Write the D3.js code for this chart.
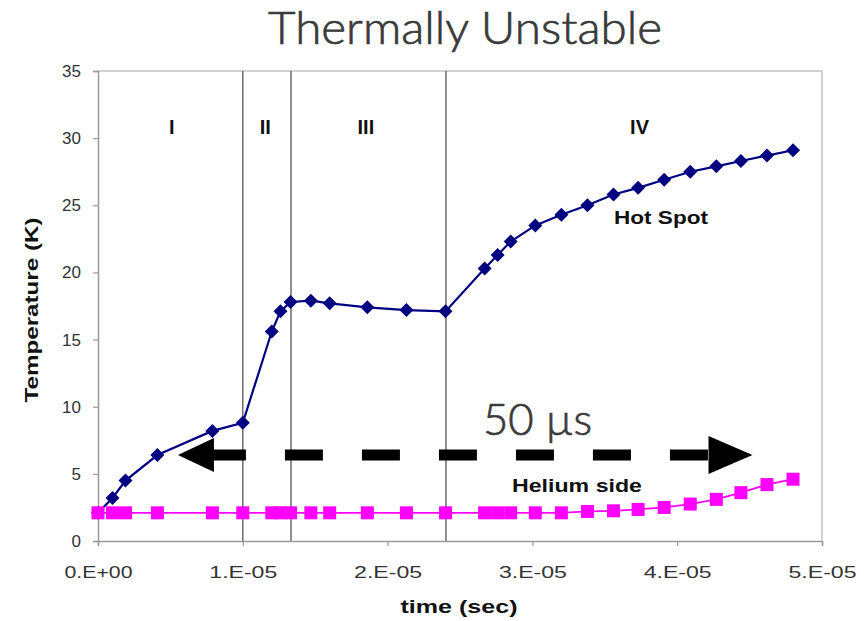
<!DOCTYPE html>
<html>
<head>
<meta charset="utf-8">
<script src="https://cdn.jsdelivr.net/npm/d3@7"></script>
<style>
  body { margin: 0; background: #fff; }
  svg { display: block; }
</style>
</head>
<body>
<div id="chart"></div>
<script>
// time in seconds, temperature in K
var hotTime = [0, 0.10e-5, 0.19e-5, 0.41e-5, 0.79e-5, 1.00e-5, 1.20e-5, 1.26e-5, 1.33e-5,
               1.47e-5, 1.60e-5, 1.86e-5, 2.13e-5, 2.40e-5, 2.67e-5, 2.76e-5, 2.85e-5,
               3.02e-5, 3.20e-5, 3.38e-5, 3.56e-5, 3.73e-5, 3.91e-5, 4.09e-5, 4.27e-5,
               4.44e-5, 4.62e-5, 4.80e-5];
var hotTemp = [2.1, 3.2, 4.5, 6.4, 8.2, 8.8, 15.6, 17.1, 17.8,
               17.9, 17.7, 17.4, 17.2, 17.1, 20.3, 21.3, 22.3,
               23.5, 24.3, 25.0, 25.8, 26.3, 26.9, 27.5, 27.9,
               28.3, 28.7, 29.1];
var heTime = hotTime;
var heTemp = [2.1, 2.1, 2.1, 2.1, 2.1, 2.1, 2.1, 2.1, 2.1,
              2.1, 2.1, 2.1, 2.1, 2.1, 2.1, 2.1, 2.1,
              2.1, 2.1, 2.2, 2.25, 2.35, 2.5, 2.75, 3.1,
              3.6, 4.2, 4.6];

var yTicks = [0, 5, 10, 15, 20, 25, 30, 35];
var xTicks = [0, 1e-5, 2e-5, 3e-5, 4e-5, 5e-5];
var xTickLabels = ["0.E+00", "1.E-05", "2.E-05", "3.E-05", "4.E-05", "5.E-05"];

// phase boundaries and labels
var phaseLines = [1.0e-5, 1.333e-5, 2.403e-5];
var phaseNames = ["I", "II", "III", "IV"];
var phaseCenters = [0.51e-5, 1.155e-5, 1.85e-5, 3.74e-5];

// the 50 µs arrow (start, end, height)
var arrowSpan = [0.552e-5, 4.52e-5];
var arrowTemp = 6.4;

var W = 865, H = 621;
var svg = d3.select("#chart").append("svg")
  .attr("width", W)
  .attr("height", H);

var x = d3.scaleLinear().domain([0, 5e-5]).range([98, 822]);
var y = d3.scaleLinear().domain([0, 35]).range([541, 71]);

var axisFont = "Liberation Sans, Arial, sans-serif";
var slideFont = "Lato, 'Open Sans', sans-serif";

// plot frame (top and right)
svg.append("path")
  .attr("d", "M" + x(0) + "," + y(35) + "H" + x(5e-5) + "V" + y(0))
  .attr("fill", "none")
  .attr("stroke", "#c4c4c4")
  .attr("stroke-width", 1.5);

// phase separators
svg.selectAll(".phase")
  .data(phaseLines)
  .enter().append("line")
  .attr("class", "phase")
  .attr("x1", function(d){ return x(d); })
  .attr("x2", function(d){ return x(d); })
  .attr("y1", y(35))
  .attr("y2", y(0))
  .attr("stroke", "#6a6a6a")
  .attr("stroke-width", 1.5);

// axes
var yAxis = svg.append("g")
  .attr("transform", "translate(" + x(0) + ",0)")
  .call(d3.axisLeft(y).tickValues(yTicks).tickSize(5).tickPadding(12).tickFormat(d3.format("d")));

var xAxis = svg.append("g")
  .attr("transform", "translate(0," + y(0) + ")")
  .call(d3.axisBottom(x).tickValues(xTicks).tickSize(5).tickPadding(20)
        .tickFormat(function(d, i){ return xTickLabels[i]; }));

[yAxis, xAxis].forEach(function(ax){
  ax.select(".domain").attr("stroke", "#9a9a9a").attr("stroke-width", 1.5);
  ax.selectAll(".tick line").attr("stroke", "#9a9a9a").attr("stroke-width", 1.2);
  ax.selectAll(".tick text")
    .attr("fill", "#333")
    .style("font-family", axisFont)
    .style("font-size", "17px");
});
xAxis.selectAll(".tick text").attr("textLength", 68).attr("lengthAdjust", "spacingAndGlyphs");

// axis titles
svg.append("text")
  .attr("x", 459)
  .attr("y", 613)
  .attr("text-anchor", "middle")
  .attr("textLength", 117)
  .attr("lengthAdjust", "spacingAndGlyphs")
  .style("font-family", axisFont)
  .style("font-weight", "bold")
  .style("font-size", "19px")
  .attr("fill", "#111")
  .text("time (sec)");

svg.append("text")
  .attr("transform", "translate(38,310) rotate(-90)")
  .attr("text-anchor", "middle")
  .attr("textLength", 185)
  .attr("lengthAdjust", "spacingAndGlyphs")
  .style("font-family", axisFont)
  .style("font-weight", "bold")
  .style("font-size", "19px")
  .attr("fill", "#111")
  .text("Temperature (K)");

// phase labels
svg.selectAll(".phaseName")
  .data(phaseNames)
  .enter().append("text")
  .attr("class", "phaseName")
  .attr("x", function(d, i){ return x(phaseCenters[i]); })
  .attr("y", 134)
  .attr("text-anchor", "middle")
  .style("font-family", axisFont)
  .style("font-weight", "bold")
  .style("font-size", "20px")
  .attr("fill", "#111")
  .text(function(d){ return d; });

// series
var lineGen = d3.line()
  .x(function(d){ return x(d[0]); })
  .y(function(d){ return y(d[1]); });

var hotData = hotTime.map(function(t, i){ return [t, hotTemp[i]]; });
var heData = heTime.map(function(t, i){ return [t, heTemp[i]]; });

svg.append("path")
  .datum(hotData)
  .attr("d", lineGen)
  .attr("fill", "none")
  .attr("stroke", "#000080")
  .attr("stroke-width", 2.2);

svg.selectAll(".hot")
  .data(hotData)
  .enter().append("path")
  .attr("class", "hot")
  .attr("transform", function(d){ return "translate(" + x(d[0]) + "," + y(d[1]) + ")"; })
  .attr("d", "M0,-7L7,0L0,7L-7,0Z")
  .attr("fill", "#000080");

svg.append("path")
  .datum(heData)
  .attr("d", lineGen)
  .attr("fill", "none")
  .attr("stroke", "#ff00ff")
  .attr("stroke-width", 1.8);

svg.selectAll(".he")
  .data(heData)
  .enter().append("rect")
  .attr("class", "he")
  .attr("x", function(d){ return x(d[0]) - 6.5; })
  .attr("y", function(d){ return y(d[1]) - 6.5; })
  .attr("width", 13)
  .attr("height", 13)
  .attr("fill", "#ff00ff");

// series labels
svg.append("text")
  .attr("x", 661)
  .attr("y", 224)
  .attr("text-anchor", "middle")
  .attr("textLength", 94)
  .attr("lengthAdjust", "spacingAndGlyphs")
  .style("font-family", axisFont)
  .style("font-weight", "bold")
  .style("font-size", "18px")
  .attr("fill", "#111")
  .text("Hot Spot");

svg.append("text")
  .attr("x", 577)
  .attr("y", 492)
  .attr("text-anchor", "middle")
  .attr("textLength", 130)
  .attr("lengthAdjust", "spacingAndGlyphs")
  .style("font-family", axisFont)
  .style("font-weight", "bold")
  .style("font-size", "18px")
  .attr("fill", "#111")
  .text("Helium side");

// double headed dashed arrow
var ax0 = x(arrowSpan[0]), ax1 = x(arrowSpan[1]), ay = y(arrowTemp);
var headLen = 36, headHalf = 17;

svg.append("line")
  .attr("x1", ax0 + headLen - 6)
  .attr("x2", ax1 - headLen)
  .attr("y1", ay)
  .attr("y2", ay)
  .attr("stroke", "#000")
  .attr("stroke-width", 11)
  .attr("stroke-dasharray", "38,39");

svg.append("path")
  .attr("d", "M" + ax0 + "," + ay + "L" + (ax0 + headLen) + "," + (ay - headHalf) +
             "L" + (ax0 + headLen) + "," + (ay + headHalf) + "Z")
  .attr("fill", "#000");

svg.append("path")
  .attr("d", "M" + ax1 + "," + ay + "L" + (ax1 - headLen - 8) + "," + (ay - headHalf - 2) +
             "L" + (ax1 - headLen - 8) + "," + (ay + headHalf + 2) + "Z")
  .attr("fill", "#000");

svg.append("text")
  .attr("x", 483)
  .attr("y", 435)
  .attr("textLength", 109)
  .attr("lengthAdjust", "spacingAndGlyphs")
  .style("font-family", slideFont)
  .style("font-weight", 300)
  .style("font-size", "44px")
  .attr("fill", "#3a3a3a")
  .attr("stroke", "#3a3a3a")
  .attr("stroke-width", 0.7)
  .text("50 \u00b5s");

// title
svg.append("text")
  .attr("x", 268)
  .attr("y", 44)
  .attr("textLength", 394)
  .attr("lengthAdjust", "spacingAndGlyphs")
  .style("font-family", slideFont)
  .style("font-weight", 300)
  .style("font-size", "45px")
  .attr("fill", "#3a3a3a")
  .attr("stroke", "#3a3a3a")
  .attr("stroke-width", 0.7)
  .text("Thermally Unstable");
</script>
</body>
</html>
